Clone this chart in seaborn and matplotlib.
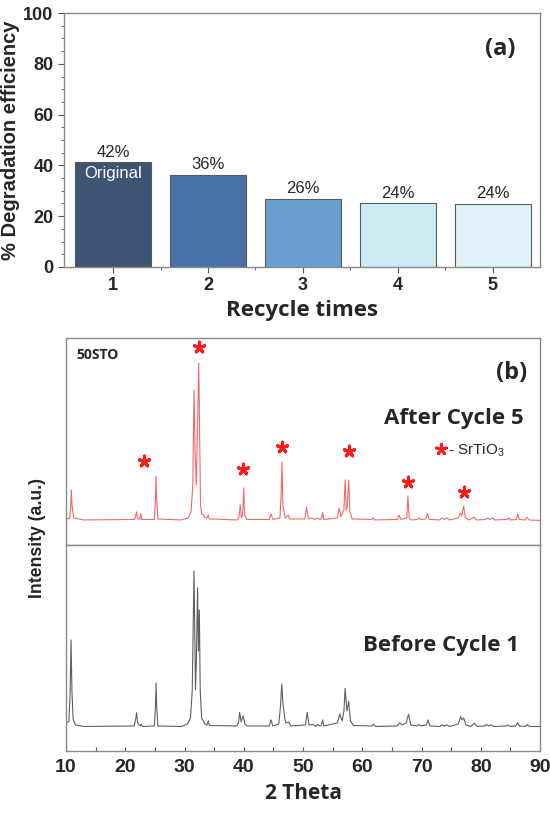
import numpy as np
import pandas as pd
import matplotlib
matplotlib.use('Agg')
import matplotlib.pyplot as plt
import seaborn as sns

# ---- panel (a): degradation efficiency per recycle ----
cycles = ['1', '2', '3', '4', '5']
efficiency = [41.3, 36.4, 26.8, 25.0, 24.8]
eff_labels = ['42%', '36%', '26%', '24%', '24%']
bar_colors = ['#3e5475', '#4a72a6', '#6b9fd0', '#cdebf5', '#dff3f9']

# ---- panel (b): XRD patterns, vertices ----
after_x = [10.0, 10.6, 10.8, 10.9, 11.0, 11.3, 13.0, 21.6, 21.9, 22.1, 22.5, 22.6, 22.8,
           24.9, 25.1, 25.2, 25.3, 25.5, 29.5, 30.6, 31.1, 31.4, 31.6, 31.8, 32.0, 32.2,
           32.4, 32.55, 32.7, 32.9, 33.2, 33.4, 33.8, 34.0, 34.2, 38.9, 39.2, 39.4, 39.6,
           39.8, 40.0, 40.15, 40.5, 44.3, 44.6, 44.9, 46.1, 46.3, 46.45, 46.6, 46.8, 47.0,
           47.5, 47.7, 50.3, 50.6, 50.9, 51.5, 52.0, 52.5, 52.8, 53.1, 53.3, 53.5, 55.8,
           56.1, 56.4, 56.9, 57.1, 57.3, 57.45, 57.7, 57.9, 58.3, 61.6, 61.8, 62.1, 65.9,
           66.2, 66.5, 67.5, 67.7, 67.9, 68.3, 69.3, 69.6, 69.9, 70.7, 71.0, 71.3, 73.0,
           73.4, 73.8, 74.3, 74.7, 76.2, 76.5, 76.8, 77.1, 77.4, 78.0, 78.8, 79.3, 80.8,
           81.1, 81.5, 82.0, 82.4, 84.4, 84.7, 85.0, 86.0, 86.2, 86.5, 87.5, 87.8, 88.2,
           90.0]
after_y = [26, 26.5, 40, 55, 40, 27, 25, 25.5, 33, 26, 26, 31, 25.5,
           25.5, 45, 69, 45, 26, 25, 27, 33, 60, 155, 90, 60, 120,
           182, 110, 40, 31, 30, 27.5, 27, 30, 26, 25, 28, 40, 27,
           30, 57, 30, 25.5, 25.5, 31, 25.5, 27, 50, 83, 40, 33, 27,
           30, 26, 26, 37.7, 26, 27, 25.5, 27, 25.5, 26, 32.7, 25.5, 27,
           36.7, 28, 35, 65, 35, 38, 65, 33, 26, 25.5, 27, 25, 25.5,
           29.7, 25.5, 27, 49, 27, 25, 25.5, 27, 25.5, 26, 31.7, 25.5, 25,
           27, 25.5, 27, 25, 27, 32, 29, 39, 27, 25, 27.7, 25, 25.5,
           27, 25.5, 27, 25, 25.5, 27, 25, 25.5, 31, 25.5, 25, 27.5, 25,
           24.5]

before_x = [10.0, 10.5, 10.7, 10.85, 11.0, 11.2, 11.6, 13.0, 21.5, 21.8, 21.9, 22.1, 22.5,
            22.7, 22.9, 24.9, 25.1, 25.2, 25.3, 25.5, 29.5, 30.5, 31.0, 31.3, 31.6, 31.85,
            32.0, 32.2, 32.35, 32.5, 32.65, 32.9, 33.1, 33.4, 33.8, 34.0, 34.2, 38.8, 39.1,
            39.3, 39.55, 39.9, 40.2, 40.6, 44.3, 44.6, 44.9, 45.9, 46.2, 46.4, 46.6, 46.9,
            47.1, 47.6, 47.9, 50.4, 50.7, 51.0, 51.7, 52.1, 52.5, 52.9, 53.1, 53.3, 53.5,
            55.8, 56.2, 56.6, 56.9, 57.1, 57.4, 57.7, 58.0, 58.5, 61.6, 61.9, 62.2, 65.9,
            66.3, 66.7, 67.4, 67.8, 68.2, 69.2, 69.5, 69.8, 70.8, 71.1, 71.4, 73.1, 73.4,
            73.8, 74.3, 74.7, 76.2, 76.6, 76.85, 77.1, 77.5, 78.3, 78.9, 79.4, 80.7, 80.9,
            81.3, 81.8, 82.2, 84.4, 84.6, 85.0, 85.9, 86.2, 86.5, 87.5, 87.8, 88.2, 90.0]
before_y = [27.7, 30, 60, 111, 60, 32, 26, 24.5, 25, 33, 38.3, 28, 25,
            27, 24.5, 25, 45, 68, 45, 25, 24.5, 27, 33, 60, 180, 61,
            90, 163, 100, 141, 60, 32, 31, 27, 26, 30, 25.5, 25, 28,
            38.7, 29, 35, 27, 25, 25, 31, 25, 27, 45, 67, 48, 33,
            28, 29, 25, 26, 38.7, 26, 26.5, 24.5, 26.5, 25, 26, 31, 25,
            28, 37, 30, 40, 62.7, 40, 49.7, 30, 25.5, 25, 26.7, 24.5, 25,
            28.3, 26, 28, 36.7, 26, 25, 26.5, 25, 26, 31, 25, 24.5, 26,
            25, 26, 24.5, 27, 34.3, 31, 33, 26, 24.5, 27.7, 24.5, 25, 26.5,
            25, 26, 24.5, 25, 26, 24.5, 25, 28.3, 25, 24.5, 26.5, 24.5, 24.5]

# SrTiO3 reflections marked with stars
star_x = [23.2, 32.5, 39.8, 46.5, 57.7, 67.7, 77.1]
star_y = [84, 198, 76, 98, 94, 63, 53]

sns.set_style('white')
plt.rcParams['font.family'] = ['Liberation Sans', 'DejaVu Sans']
BIG = ['Open Sans', 'DejaVu Sans']

fig = plt.figure(figsize=(5.5, 8.13), dpi=100)
ax1 = fig.add_axes([0.116, 0.6716, 0.866, 0.3124])
ax_up = fig.add_axes([0.12, 0.3297, 0.862, 0.2546])
ax_lo = fig.add_axes([0.12, 0.0763, 0.862, 0.2534])

# ---- (a) ----
df = pd.DataFrame({'cycle': cycles, 'eff': efficiency})
sns.barplot(data=df, x='cycle', y='eff', hue='cycle', palette=bar_colors,
            legend=False, width=0.8, edgecolor='#5a5a5a', linewidth=0.8,
            saturation=1, ax=ax1)
for i, (v, lab) in enumerate(zip(efficiency, eff_labels)):
    ax1.text(i, v + 1.0, lab, ha='center', va='bottom', fontsize=12)
ax1.text(0, 37.0, 'Original', ha='center', va='center', color='white', fontsize=12)
ax1.text(4.08, 86, '(a)', ha='center', va='center', fontsize=17, fontweight='bold',
         family=BIG)
ax1.set_xlim(-0.52, 4.5)
ax1.set_ylim(0, 100)
ax1.set_yticks([0, 20, 40, 60, 80, 100])
ax1.set_yticks(np.arange(0, 100, 5), minor=True)
ax1.set_xticks([0.5, 1.5, 2.5, 3.5], minor=True)
ax1.tick_params(axis='both', which='major', direction='out', length=4, width=0.8,
                labelsize=13, color='#555555', left=True, bottom=True)
ax1.tick_params(axis='both', which='minor', direction='out', length=2, width=0.6,
                color='#555555', left=True, bottom=True)
for lab in ax1.get_xticklabels() + ax1.get_yticklabels():
    lab.set_fontweight('bold')
ax1.set_xlabel('Recycle times', fontsize=16, fontweight='bold', labelpad=4, family=BIG)
ax1.set_ylabel('% Degradation efficiency', fontsize=14.5, fontweight='bold', labelpad=2)
for s in ax1.spines.values():
    s.set_color('#8a8a8a')
    s.set_linewidth(1.0)

# ---- (b) ----
sns.lineplot(x=after_x, y=after_y, color='#ee6b6b', linewidth=0.8,
             estimator=None, sort=False, ax=ax_up)
sns.scatterplot(x=star_x, y=star_y, marker=(5, 2, 0), s=60, color='#ff1a1a',
                linewidth=2.2, edgecolor='#ff1a1a', ax=ax_up)
ax_up.scatter([73.2], [96], marker=(5, 2, 0), s=55, color='#ff1a1a', linewidth=2.0)
ax_up.text(74.5, 95, '- SrTiO$\\mathregular{_3}$', ha='left', va='center', fontsize=11)
ax_up.text(87.3, 126.5, 'After Cycle 5', ha='right', va='center', fontsize=16,
           fontweight='bold', family=BIG)
ax_up.text(87.8, 171.5, '(b)', ha='right', va='center', fontsize=17, fontweight='bold',
           family=BIG)
ax_up.text(11.8, 190, '50STO', ha='left', va='center', fontsize=10, fontweight='bold',
           family=BIG)
ax_up.set_xlim(10, 90)
ax_up.set_ylim(0, 207)
ax_up.set_xticks([])
ax_up.set_yticks([])

sns.lineplot(x=before_x, y=before_y, color='#5f5f5f', linewidth=0.8,
             estimator=None, sort=False, ax=ax_lo)
ax_lo.text(86.4, 105, 'Before Cycle 1', ha='right', va='center', fontsize=16,
           fontweight='bold', family=BIG)
ax_lo.set_xlim(10, 90)
ax_lo.set_ylim(0, 206)
ax_lo.set_yticks([])
ax_lo.set_xticks(np.arange(10, 91, 10))
ax_lo.set_xticks(np.arange(15, 90, 10), minor=True)
ax_lo.tick_params(axis='x', which='both', direction='in', length=3, width=0.8,
                  color='#555555', labelsize=14, bottom=True, pad=6)
for lab in ax_lo.get_xticklabels():
    lab.set_fontweight('bold')
ax_lo.set_xlabel('2 Theta', fontsize=15, fontweight='bold', labelpad=5, family=BIG)

for ax in (ax_up, ax_lo):
    for s in ax.spines.values():
        s.set_color('#8a8a8a')
        s.set_linewidth(1.0)

fig.text(0.068, 0.338, 'Intensity (a.u.)', rotation=90, ha='center', va='center',
         fontsize=12.7, fontweight='bold')

fig.savefig('out.png', dpi=100)
